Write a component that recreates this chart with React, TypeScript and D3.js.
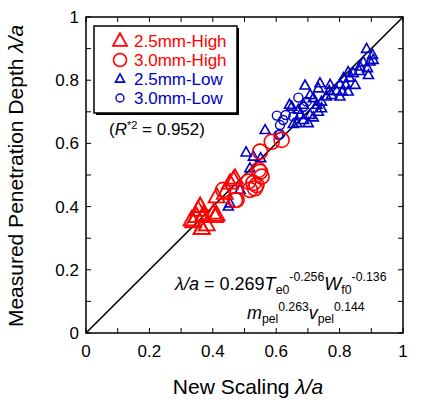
import React from "react";
import * as d3 from "d3";

// measured vs. scaled penetration depth (λ/a), four pellet groups
const high25X = [0.333, 0.338, 0.349, 0.354, 0.36, 0.365, 0.37, 0.381, 0.402, 0.407, 0.412, 0.438, 0.454, 0.465, 0.47, 0.36, 0.365, 0.37, 0.412];
const high25Y = [0.358, 0.352, 0.368, 0.389, 0.4, 0.331, 0.373, 0.342, 0.379, 0.368, 0.431, 0.442, 0.474, 0.484, 0.49, 0.4, 0.331, 0.368, 0.373];

const high30X = [0.433, 0.47, 0.475, 0.512, 0.517, 0.528, 0.533, 0.538, 0.544, 0.549, 0.549, 0.554, 0.586, 0.617];
const high30Y = [0.453, 0.421, 0.421, 0.479, 0.453, 0.475, 0.458, 0.468, 0.516, 0.51, 0.574, 0.495, 0.605, 0.611];

const low25X = [0.449, 0.454, 0.486, 0.505, 0.517, 0.528, 0.551, 0.565, 0.642, 0.649, 0.654, 0.665, 0.67, 0.675, 0.686, 0.686, 0.691, 0.701, 0.707, 0.707, 0.717, 0.717, 0.728, 0.733, 0.733, 0.738, 0.743, 0.743, 0.759, 0.767, 0.77, 0.775, 0.791, 0.801, 0.801, 0.808, 0.812, 0.82, 0.827, 0.827, 0.831, 0.843, 0.849, 0.862, 0.864, 0.875, 0.885, 0.888, 0.891, 0.896, 0.904, 0.906];
const low25Y = [0.4, 0.41, 0.453, 0.571, 0.521, 0.558, 0.553, 0.642, 0.722, 0.716, 0.661, 0.664, 0.706, 0.69, 0.722, 0.674, 0.783, 0.664, 0.753, 0.69, 0.743, 0.682, 0.722, 0.774, 0.7, 0.79, 0.732, 0.711, 0.748, 0.766, 0.785, 0.753, 0.766, 0.787, 0.748, 0.764, 0.806, 0.785, 0.825, 0.764, 0.808, 0.822, 0.785, 0.829, 0.843, 0.857, 0.899, 0.838, 0.816, 0.859, 0.88, 0.864];

const low30X = [0.602, 0.607, 0.612, 0.612, 0.622, 0.63, 0.654, 0.67, 0.686, 0.696];
const low30Y = [0.688, 0.627, 0.658, 0.629, 0.674, 0.69, 0.685, 0.745, 0.716, 0.732];

const tickValues = [0, 0.2, 0.4, 0.6, 0.8, 1];
const tickLabels = ["0", "0.2", "0.4", "0.6", "0.8", "1"];
const legendLabels = ["2.5mm-High", "3.0mm-High", "2.5mm-Low", "3.0mm-Low"];

const RED = "#ff0000";
const BLUE = "#0000c8";
const FONT = "'Liberation Sans', Arial, sans-serif";

const width = 422;
const height = 402;
const margin = { top: 17, right: 19, bottom: 69, left: 86 };

const triPath = (s: number) => {
  const h = s * 0.9;
  return `M0,${-h * 0.62}L${s / 2},${h * 0.38}L${-s / 2},${h * 0.38}Z`;
};

const Marker = ({ kind, size, color, x, y }: { kind: string; size: number; color: string; x: number; y: number }) =>
  kind === "tri" ? (
    <path d={triPath(size)} transform={`translate(${x},${y})`} fill="none" stroke={color} strokeWidth={size > 12 ? 1.8 : 1.6} />
  ) : (
    <circle cx={x} cy={y} r={size / 2} fill="none" stroke={color} strokeWidth={size > 12 ? 1.6 : 1.4} />
  );

export default function App() {
  const x = d3.scaleLinear().domain([0, 1]).range([margin.left, width - margin.right]);
  const y = d3.scaleLinear().domain([0, 1]).range([height - margin.bottom, margin.top]);
  const minor = d3.range(0, 1.0001, 0.1);

  const series = [
    { xs: low25X, ys: low25Y, kind: "tri", size: 10, color: BLUE },
    { xs: low30X, ys: low30Y, kind: "circle", size: 9, color: BLUE },
    { xs: high30X, ys: high30Y, kind: "circle", size: 15, color: RED },
    { xs: high25X, ys: high25Y, kind: "tri", size: 16, color: RED },
  ];

  const legend = [
    { kind: "tri", size: 14, color: RED },
    { kind: "circle", size: 13, color: RED },
    { kind: "tri", size: 9, color: BLUE },
    { kind: "circle", size: 8, color: BLUE },
  ];

  const [x0, x1] = x.range();
  const [y0, y1] = y.range();

  return (
    <svg width={width} height={height} style={{ position: "absolute", left: 0, top: 0, background: "#fff" }} fontFamily={FONT}>
      {/* identity line */}
      <line x1={x(0)} y1={y(0)} x2={x(1)} y2={y(1)} stroke="#000" strokeWidth={1.6} />

      {series.map((s, si) => (
        <g key={si}>
          {s.xs.map((v, i) => (
            <Marker key={i} kind={s.kind} size={s.size} color={s.color} x={x(v)} y={y(s.ys[i])} />
          ))}
        </g>
      ))}

      {/* frame and inward ticks */}
      <rect x={x0} y={y1} width={x1 - x0} height={y0 - y1} fill="none" stroke="#000" strokeWidth={1.5} />
      {minor.map((t, i) => (
        <g key={i} stroke="#000" strokeWidth={1}>
          <line x1={x(t)} x2={x(t)} y1={y0} y2={y0 - 5} />
          <line x1={x(t)} x2={x(t)} y1={y1} y2={y1 + 5} />
          <line x1={x0} x2={x0 + 5} y1={y(t)} y2={y(t)} />
          <line x1={x1} x2={x1 - 5} y1={y(t)} y2={y(t)} />
        </g>
      ))}
      {tickValues.map((t, i) => (
        <g key={i} fontSize={17} fill="#000">
          <text x={x(t)} y={y0 + 24} textAnchor="middle">{tickLabels[i]}</text>
          <text x={x0 - 7} y={y(t) + 6} textAnchor="end">{tickLabels[i]}</text>
        </g>
      ))}

      {/* axis titles */}
      <text x={248} y={394} fontSize={21} textAnchor="middle">
        New Scaling <tspan fontStyle="italic">λ/a</tspan>
      </text>
      <text transform={`translate(23,${(y0 + y1) / 2 + 1}) rotate(-90)`} fontSize={21} textAnchor="middle">
        Measured Penetration Depth <tspan fontStyle="italic">λ/a</tspan>
      </text>

      {/* legend */}
      <rect x={96} y={28} width={143} height={87} fill="#000" />
      <rect x={94} y={26} width={143} height={87} fill="#fff" stroke="#000" strokeWidth={1.5} />
      {legend.map((l, i) => (
        <g key={i}>
          <Marker kind={l.kind} size={l.size} color={l.color} x={120} y={41 + i * 19} />
          <text x={134} y={47 + i * 19} fontSize={17} fill={l.color}>{legendLabels[i]}</text>
        </g>
      ))}
      <text x={109} y={135} fontSize={17}>
        (<tspan fontStyle="italic">R</tspan>
        <tspan fontSize={11} dy={-6}>*2</tspan>
        <tspan dy={6}> = 0.952)</tspan>
      </text>

      {/* fitted scaling law */}
      <g transform="translate(175,290) scale(0.95,1)">
        <text x={0} y={0} fontSize={19}>
          <tspan fontStyle="italic">λ/a</tspan> = 0.269<tspan fontStyle="italic">T</tspan>
          <tspan fontSize={13} dy={4}>e0</tspan>
          <tspan fontSize={13} dy={-13}>-0.256</tspan>
          <tspan fontStyle="italic" dy={9}>W</tspan>
          <tspan fontSize={13} dy={4}>f0</tspan>
          <tspan fontSize={13} dy={-13}>-0.136</tspan>
        </text>
      </g>
      <g transform="translate(247,319) scale(0.94,1)">
        <text x={0} y={0} fontSize={19}>
          <tspan fontStyle="italic">m</tspan>
          <tspan fontSize={13} dy={4}>pel</tspan>
          <tspan fontSize={13} dy={-12}>0.263</tspan>
          <tspan fontStyle="italic" dy={8}>v</tspan>
          <tspan fontSize={13} dy={4}>pel</tspan>
          <tspan fontSize={13} dy={-12}>0.144</tspan>
        </text>
      </g>
    </svg>
  );
}
